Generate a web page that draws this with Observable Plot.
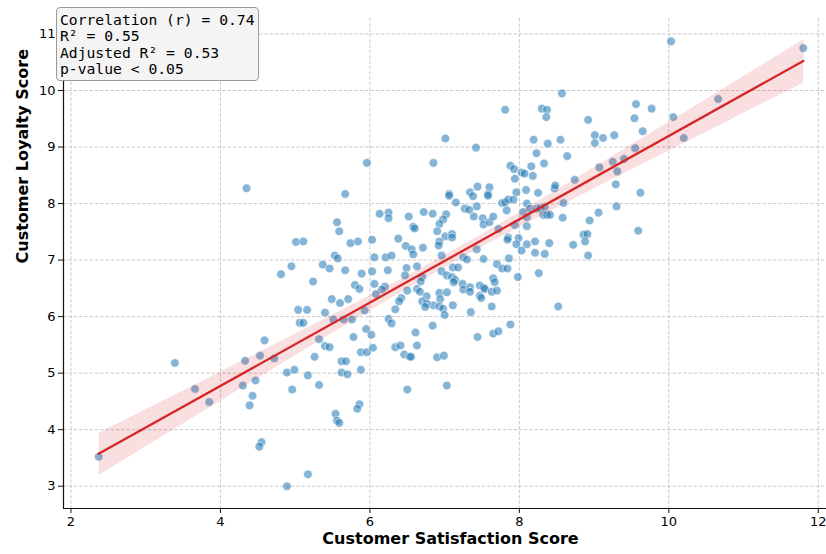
<!DOCTYPE html>
<html>
<head>
<meta charset="utf-8">
<script src="https://cdn.jsdelivr.net/npm/d3@7"></script>
<script src="https://cdn.jsdelivr.net/npm/@observablehq/plot@0.6"></script>
<style>
  html, body { margin: 0; padding: 0; background: #fff; overflow: hidden; }
  #wrap { position: relative; width: 826px; height: 554px; }
  #stats {
    position: absolute; left: 56px; top: 7px; display: inline-block;
    padding: 4px 3px 3px 3px;
    background: #f4f4f4; border: 1.3px solid #9a9a9a; border-radius: 4px;
    font-family: "DejaVu Sans Mono", monospace; font-size: 14.7px; line-height: 16.3px;
    color: #000; white-space: pre;
  }
</style>
</head>
<body>
<div id="wrap"><div id="stats"></div></div>
<script>
// Customer Satisfaction (x) and Customer Loyalty (y)
const satisfaction = [
  7.81,8.30,8.37,8.36,8.57,8.92,7.01,7.42,6.85,8.19,8.38,8.55,9.01,9.01,9.12,9.27,8.23,8.64,7.88,7.93,8.16,8.33,8.03,8.07,8.18,7.94,8.74,9.07,9.25,9.31,
  5.96,
  10.03,11.80,9.56,9.77,9.54,10.06,10.66,9.65,10.20,9.55,9.40,
  9.29,9.62,9.30,9.59,
  7.06,7.06,7.34,7.38,7.44,7.60,7.58,7.58,7.96,8.09,8.25,8.47,8.48,7.15,6.84,7.02,6.98,6.93,6.90,7.01,7.10,7.10,6.93,6.92,
  7.27,7.33,7.43,7.39,7.51,7.52,7.60,7.65,7.72,7.77,7.81,7.85,7.92,7.83,8.10,8.05,8.10,8.14,8.23,8.28,8.34,8.32,8.37,8.41,
  8.59,8.58,8.94,9.06,8.86,8.91,8.88,8.72,8.92,8.10,7.94,7.85,7.84,7.99,7.96,8.10,8.21,8.40,8.03,8.21,8.34,7.43,6.96,7.25,
  7.30,7.52,7.86,7.70,7.77,7.84,8.26,7.98,7.11,7.18,6.96,7.03,7.10,7.14,7.12,7.24,7.25,7.34,7.34,7.47,7.52,7.54,7.65,7.67,
  7.63,7.70,7.47,7.49,6.93,7.03,6.94,6.85,6.93,6.98,7.00,7.11,7.35,7.63,8.52,6.84,7.88,7.44,7.65,7.72,
  4.35,5.67,6.13,6.25,6.25,6.52,6.72,6.58,6.60,5.56,5.59,5.01,5.11,5.74,5.84,6.03,6.38,6.48,6.56,6.58,6.71,5.53,5.57,6.06,
  6.21,6.29,6.24,6.03,5.89,5.67,5.37,5.46,4.95,4.81,5.24,5.80,5.86,6.06,6.20,6.16,6.49,6.63,6.47,6.70,6.68,6.50,6.63,6.67,
  6.76,6.70,6.76,6.74,6.42,6.39,6.34,6.08,5.49,5.60,5.71,5.40,5.04,5.16,5.93,5.51,5.65,5.76,5.06,5.11,6.25,6.29,5.95,6.02,
  5.78,6.61,4.59,5.32,
  5.40,5.46,4.33,4.53,4.72,4.47,4.43,4.39,4.89,4.99,5.17,5.26,5.32,4.96,5.62,5.68,5.62,5.70,5.88,5.96,6.04,5.88,5.86,5.83,
  5.54,5.56,5.59,4.55,4.52,5.17,4.89,6.34,6.41,6.63,6.46,6.53,6.55,6.50,
  6.90,6.99,7.03,
  3.39,3.66,3.85,4.30,2.37
];
const loyalty = [
  9.66,9.68,9.66,9.53,9.95,9.48,9.15,8.99,8.72,9.13,9.06,9.13,9.21,9.07,9.16,9.21,8.89,8.84,8.67,8.61,8.66,8.71,8.55,8.53,8.49,8.44,8.42,8.64,8.74,8.57,
  8.72,
  10.87,10.75,9.76,9.68,9.51,9.53,9.85,9.28,9.16,8.98,8.79,
  8.34,8.19,7.95,7.52,
  8.17,8.14,8.20,8.13,8.30,8.29,8.17,8.14,8.20,8.24,8.19,8.27,8.32,8.02,7.82,7.81,7.72,7.64,7.51,7.42,7.46,7.40,7.33,7.26,
  7.91,7.89,7.95,7.77,7.74,7.63,7.67,7.77,7.55,8.01,8.02,8.07,8.07,7.88,8.00,7.85,7.76,7.91,7.91,7.92,7.94,7.80,7.80,7.80,
  8.01,7.75,7.70,7.84,7.45,7.46,7.33,7.27,7.08,7.60,7.62,7.40,7.36,7.39,7.28,7.28,7.33,7.30,7.17,7.13,7.11,7.19,7.08,7.05,
  7.01,7.02,7.03,6.93,6.85,6.85,6.77,6.70,6.87,6.87,6.80,6.73,6.70,6.65,6.61,6.58,6.48,6.52,6.44,6.55,6.51,6.49,6.68,6.61,
  6.44,6.46,6.37,6.33,6.42,6.43,6.31,6.20,6.18,6.14,6.03,6.20,6.08,6.18,6.18,5.84,5.86,5.64,5.70,5.74,
  8.27,8.17,7.82,7.84,7.74,7.77,7.85,7.59,7.56,7.67,7.51,7.32,7.33,7.30,7.33,7.36,7.38,7.25,7.19,7.10,7.22,7.08,7.03,7.05,
  7.05,7.08,6.82,6.80,6.76,6.82,6.92,6.85,6.89,6.75,6.62,6.56,6.49,6.58,6.53,6.48,6.86,6.89,6.73,6.70,6.62,6.46,6.49,6.44,
  6.36,6.27,6.23,6.17,6.33,6.27,6.13,6.40,6.31,6.24,6.31,6.07,6.12,6.12,6.11,5.95,5.95,5.95,5.89,5.89,5.96,5.88,5.78,5.68,
  5.64,5.72,5.58,5.60,
  5.48,5.46,5.22,5.31,5.26,4.87,4.60,4.43,5.01,5.06,4.96,5.29,4.79,4.71,5.21,5.21,5.01,4.98,5.37,5.37,5.45,5.06,4.45,4.37,
  4.28,4.16,4.12,3.78,3.70,3.21,3.00,5.46,5.49,5.49,5.33,5.29,5.29,4.71,
  5.28,5.31,4.78,
  5.18,4.72,4.49,4.78,3.52
];
const xTicks = [2, 4, 6, 8, 10, 12];
const yTicks = [3, 4, 5, 6, 7, 8, 9, 10, 11];
const statLines = ["Correlation (r) = 0.74", "R\u00b2 = 0.55", "Adjusted R\u00b2 = 0.53", "p-value < 0.05"];
const xLabel = "Customer Satisfaction Score";
const yLabel = "Customer Loyalty Score";

const n = Math.min(satisfaction.length, loyalty.length);
const data = d3.range(n).map(i => ({x: satisfaction[i], y: loyalty[i]}));

const xDom = [1.9, 12.11], yDom = [2.6055, 11.274];

const chart = Plot.plot({
  width: 826, height: 554,
  marginLeft: 63, marginRight: 0, marginTop: 18, marginBottom: 46,
  style: {fontFamily: "DejaVu Sans", fontSize: "13px", color: "#000", background: "white"},
  x: {domain: xDom},
  y: {domain: yDom},
  marks: [
    Plot.gridX(xTicks, {stroke: "#c4c4c4", strokeOpacity: 1, strokeWidth: 0.9, strokeDasharray: "3.5,1.8"}),
    Plot.gridY(yTicks, {stroke: "#c4c4c4", strokeOpacity: 1, strokeWidth: 0.9, strokeDasharray: "3.5,1.8"}),
    Plot.dot(data, {x: "x", y: "y", r: 4.3, fill: "#1f77b4", fillOpacity: 0.55, stroke: "white", strokeWidth: 0.8, strokeOpacity: 0.7}),
    Plot.linearRegressionY(data, {x: "x", y: "y", stroke: "#d62728", strokeWidth: 2.3, fill: "#d62728", fillOpacity: 0.15, ci: 0.95}),
    Plot.ruleX([xDom[0]], {stroke: "#111", strokeWidth: 1.2}),
    Plot.ruleY([yDom[0]], {stroke: "#111", strokeWidth: 1.2}),
    Plot.axisX(xTicks, {tickSize: 5, tickPadding: 3, label: null, tickFormat: d => String(d), fontSize: 13, stroke: "#111"}),
    Plot.axisY(yTicks, {tickSize: 5, tickPadding: 3, label: null, tickFormat: d => String(d), fontSize: 13, stroke: "#111"}),
    Plot.text([xLabel], {frameAnchor: "bottom", dy: 35, dx: 5.5, text: d => d, fontWeight: "bold", fontSize: 16, fill: "#000"}),
    Plot.text([yLabel], {frameAnchor: "left", dx: -41, rotate: -90, text: d => d, fontWeight: "bold", fontSize: 16, fill: "#000"})
  ]
});
const wrap = document.getElementById("wrap");
wrap.insertBefore(chart, wrap.firstChild);
document.getElementById("stats").textContent = statLines.join("\n");
</script>
</body>
</html>
